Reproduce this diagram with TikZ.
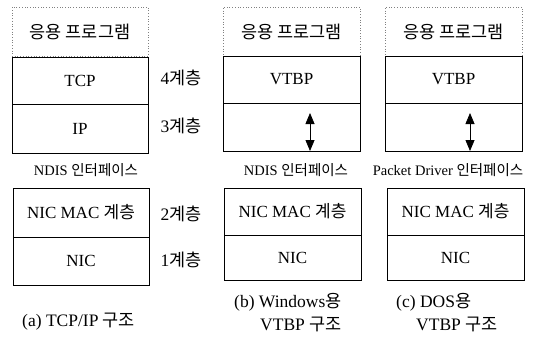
\documentclass[tikz,border=0pt]{standalone}
\usepackage{fontspec}
\setmainfont{Liberation Serif}
\newfontfamily\krfont{Noto Sans CJK KR}
\newcommand\kr[1]{{\krfont #1}}
\usetikzlibrary{arrows.meta}
\begin{document}
\begin{tikzpicture}[x=1pt,y=-1pt,
  layer/.style={draw,line width=1pt,minimum width=136pt,inner sep=0pt,font=\fontsize{17}{19}\selectfont},
  appbox/.style={draw=gray,dotted,line width=0.7pt,minimum width=136pt,minimum height=49pt,inner sep=0pt,font=\fontsize{17.5}{19}\selectfont},
  lvl/.style={font=\fontsize{17.5}{19}\selectfont,inner sep=0pt},
  iface/.style={font=\fontsize{14.5}{16}\selectfont,inner sep=0pt},
  captxt/.style={font=\fontsize{17.5}{19}\selectfont,inner sep=0pt,anchor=west},
  dbl/.style={{Triangle[length=11pt,width=9pt]}-{Triangle[length=11pt,width=9pt]},line width=0.8pt}]
\useasboundingbox (0,0) rectangle (540,341);
% (a)
\node[appbox] (aapp) at (80,31.5) {\kr{응용 프로그램}};
\node[layer,minimum height=47pt] (atcp) at (80,80.5) {TCP};
\node[layer,minimum height=49pt] (aip) at (80,128.5) {IP};
\node[iface] (andis) at (86,170) {NDIS \kr{인터페이스}};
\node[layer,minimum height=49pt] (amac) at (81,212.5) {NIC MAC \kr{계층}};
\node[layer,minimum height=48pt] (anic) at (81,261) {NIC};
\node[lvl] (l4) at (181,78) {4\kr{계층}};
\node[lvl] (l3) at (181,126) {3\kr{계층}};
\node[lvl] (l2) at (181,214) {2\kr{계층}};
\node[lvl] (l1) at (181,260) {1\kr{계층}};
\node[captxt] (acap) at (22,322) {(a) TCP/IP \kr{구조}};
% (b)
\node[appbox,minimum width=137pt] (bapp) at (291.5,31.5) {\kr{응용 프로그램}};
\node[layer,minimum width=137pt,minimum height=47pt] (bvtbp) at (291.5,79.5) {VTBP};
\node[layer,minimum width=137pt,minimum height=48pt] (bemp) at (291.5,127) {};
\coordinate (bt) at (310,113);
\coordinate (bb) at (310,151);
\draw[dbl] (bt) -- (bb);
\node[iface] (bndis) at (296,170) {NDIS \kr{인터페이스}};
\node[layer,minimum width=137pt,minimum height=47pt] (bmac) at (292.5,211.5) {NIC MAC \kr{계층}};
\node[layer,minimum width=137pt,minimum height=45pt] (bnic) at (292.5,257.5) {NIC};
\node[captxt] (bcap1) at (234,302) {(b) Windows\kr{용}};
\node[captxt] (bcap2) at (260,324) {VTBP \kr{구조}};
% (c)
\node[appbox,minimum width=137pt] (capp) at (453.5,31.5) {\kr{응용 프로그램}};
\node[layer,minimum width=137pt,minimum height=47pt] (cvtbp) at (453.5,79.5) {VTBP};
\node[layer,minimum width=137pt,minimum height=48pt] (cemp) at (453.5,127) {};
\coordinate (ct) at (470,113);
\coordinate (cb) at (470,151);
\draw[dbl] (ct) -- (cb);
\node[iface] (cpd) at (448,170) {Packet Driver \kr{인터페이스}};
\node[layer,minimum width=137pt,minimum height=47pt] (cmac) at (455.5,211.5) {NIC MAC \kr{계층}};
\node[layer,minimum width=137pt,minimum height=45pt] (cnic) at (455.5,257.5) {NIC};
\node[captxt] (ccap1) at (396,302) {(c) DOS\kr{용}};
\node[captxt] (ccap2) at (416,324) {VTBP \kr{구조}};
\end{tikzpicture}
\end{document}
